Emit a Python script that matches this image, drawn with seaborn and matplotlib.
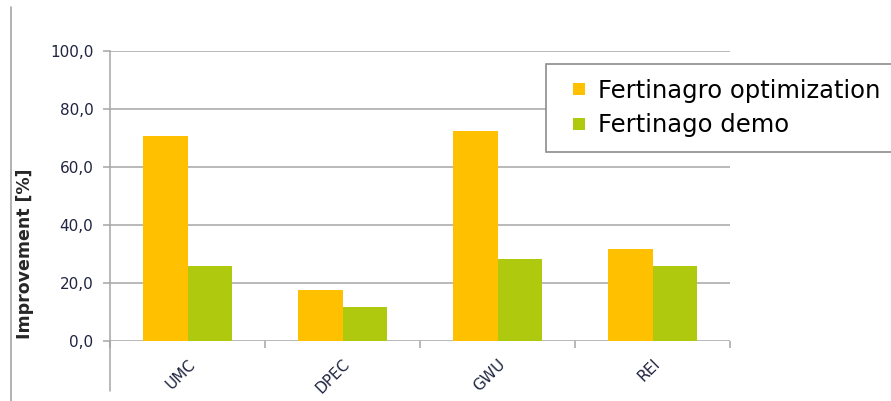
import matplotlib
matplotlib.use("Agg")
import matplotlib.pyplot as plt
from matplotlib.lines import Line2D
from matplotlib.ticker import FixedLocator, FuncFormatter
import pandas as pd
import seaborn as sns

categories = ["UMC", "DPEC", "GWU", "REI"]
series_names = ["Fertinagro optimization", "Fertinago demo"]
optimization = [70.7, 17.6, 72.4, 31.7]
demo = [25.9, 11.7, 28.3, 25.9]
yticks = [0, 20, 40, 60, 80, 100]
colors = ["#FFC000", "#AFC90E"]

df = pd.DataFrame({
    "category": categories * 2,
    "series": [series_names[0]] * 4 + [series_names[1]] * 4,
    "value": optimization + demo,
})

sns.set_theme(style="white")
plt.rcParams["font.family"] = ["DejaVu Sans"]

fig = plt.figure(figsize=(8.91, 4.01), dpi=100)
ax = fig.add_axes([110 / 891, 60 / 401, 620 / 891, 290 / 401])

sns.barplot(data=df, x="category", y="value", hue="series",
            palette=colors, width=0.57, gap=0,
            linewidth=0, saturation=1, ax=ax)

ax.set_ylim(0, 100)
ax.set_xlim(-0.5, 3.5)
ax.set_yticks(yticks)
ax.yaxis.set_major_formatter(FuncFormatter(lambda v, p: f"{v:.1f}".replace(".", ",")))
ax.grid(axis="y", color="#A6A6A6", linewidth=1.1)
ax.set_axisbelow(True)
for s in ["top", "right", "bottom"]:
    ax.spines[s].set_visible(False)
ax.spines["left"].set_color("#A6A6A6")
ax.spines["left"].set_linewidth(1.1)
# axis line carries on below the plot area
ax.plot([0, 0], [-0.172, 0], transform=ax.transAxes, color="#A6A6A6",
        linewidth=1.1, clip_on=False)

ax.tick_params(axis="y", length=5, width=1.1, color="#A6A6A6", labelsize=11,
               labelcolor="#1F2440", pad=7, left=True)
ax.tick_params(axis="x", which="major", length=0, labelsize=11,
               labelcolor="#1F2440", pad=11)
ax.xaxis.set_minor_locator(FixedLocator([-0.5, 0.5, 1.5, 2.5, 3.5]))
ax.tick_params(axis="x", which="minor", length=5, width=1.1, color="#A6A6A6",
               bottom=True)
plt.setp(ax.get_xticklabels(), rotation=45, ha="right", rotation_mode="anchor")

ax.set_xlabel("")
ax.set_ylabel("Improvement [%]", fontsize=12.5, fontweight="bold")
ax.yaxis.set_label_coords(-0.122, 0.30)

handles = [Line2D([], [], marker="s", linestyle="none", markersize=8,
                  markerfacecolor=c, markeredgewidth=0) for c in colors]
ax.legend(handles, series_names, loc="upper left",
          bbox_to_anchor=(546 / 891, (401 - 64) / 401),
          bbox_transform=fig.transFigure, fontsize=17.5, frameon=True,
          fancybox=False, edgecolor="#8C8C8C", framealpha=1,
          handlelength=1.52, handletextpad=0.0, borderpad=0.6,
          labelspacing=0.43, borderaxespad=0, labelcolor="black")
ax.get_legend().get_frame().set_linewidth(1.2)

fig.add_artist(Line2D([11 / 891, 11 / 891], [0, (401 - 7) / 401],
                      color="#A6A6A6", linewidth=1.2))

fig.savefig("out.png", dpi=100)
plt.close(fig)
